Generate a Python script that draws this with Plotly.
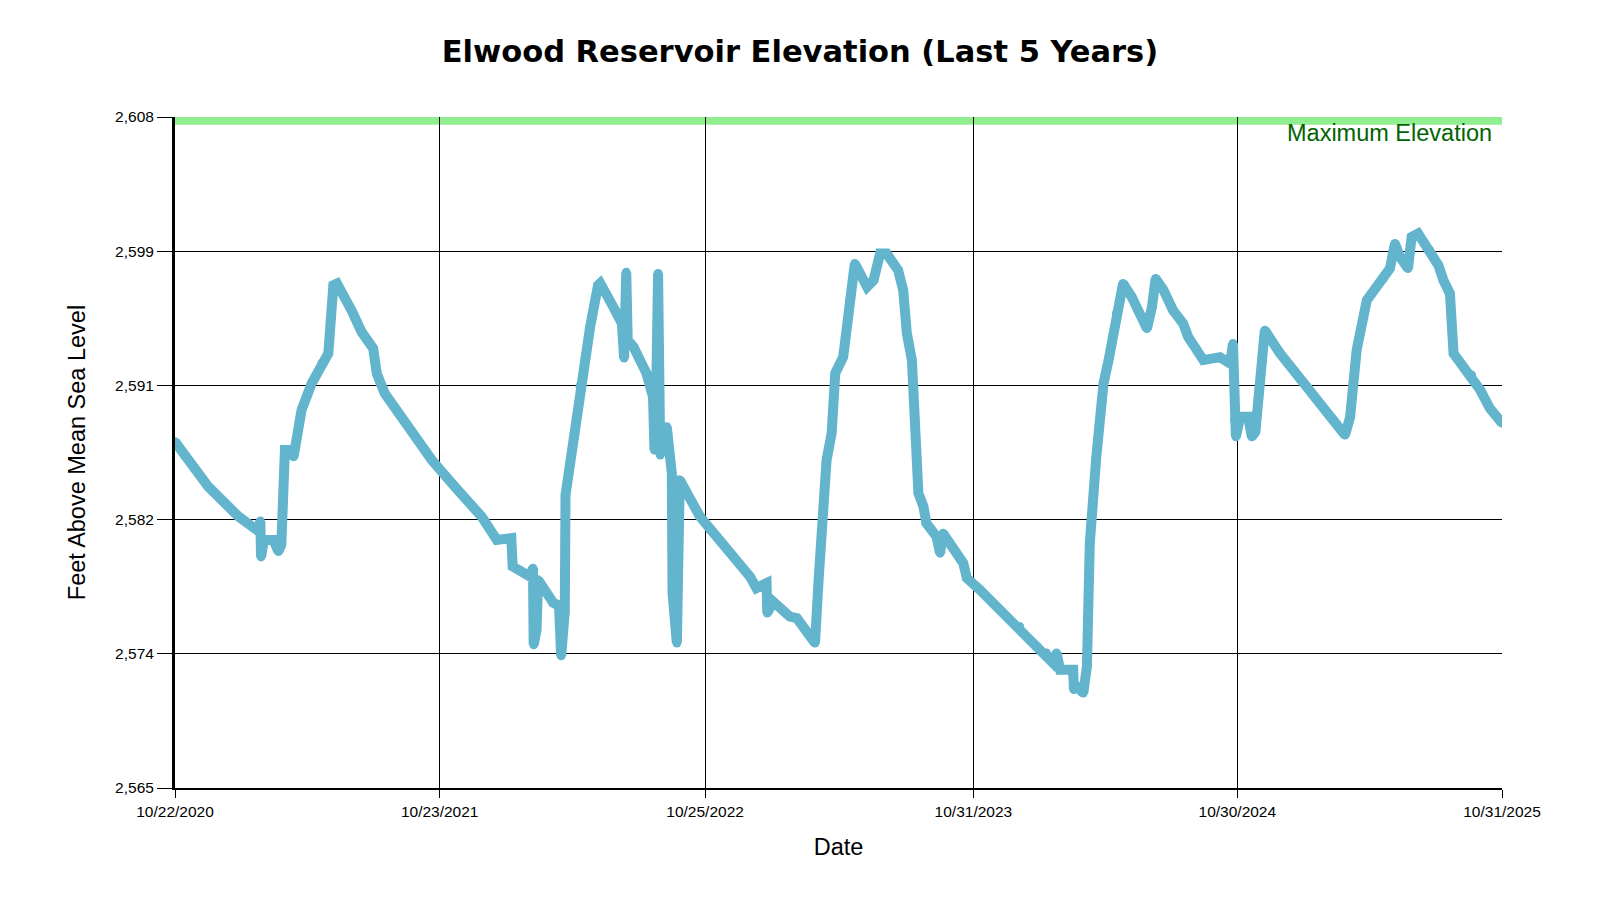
import plotly.graph_objects as go

dates = [
    "2020-10-22", "2020-12-07", "2021-01-18", "2021-02-14", "2021-02-17", "2021-02-18",
    "2021-02-22", "2021-03-07", "2021-03-14", "2021-03-18", "2021-03-23", "2021-03-28",
    "2021-04-04", "2021-04-15", "2021-04-29", "2021-05-13", "2021-05-22", "2021-05-29",
    "2021-06-03", "2021-06-23", "2021-07-07", "2021-07-23", "2021-07-28", "2021-08-08",
    "2021-08-27", "2021-09-19", "2021-10-12", "2021-11-13", "2021-12-20", "2022-01-10",
    "2022-01-30", "2022-02-01", "2022-02-25", "2022-03-01", "2022-03-02", "2022-03-06",
    "2022-03-08", "2022-03-29", "2022-04-06", "2022-04-09", "2022-04-14", "2022-04-15",
    "2022-05-05", "2022-05-19", "2022-05-30", "2022-06-02", "2022-06-20", "2022-07-02",
    "2022-07-05", "2022-07-08", "2022-07-10", "2022-07-18", "2022-07-27", "2022-08-05",
    "2022-08-14", "2022-08-16", "2022-08-18", "2022-08-21", "2022-08-24", "2022-08-26",
    "2022-09-02", "2022-09-09", "2022-09-10", "2022-09-16", "2022-09-17", "2022-09-18",
    "2022-09-20", "2022-10-18", "2022-11-01", "2022-11-29", "2022-12-26", "2023-01-04",
    "2023-01-18", "2023-01-19", "2023-01-27", "2023-02-19", "2023-03-01", "2023-03-26",
    "2023-03-31", "2023-04-11", "2023-04-18", "2023-04-23", "2023-05-04", "2023-05-13",
    "2023-05-20", "2023-06-06", "2023-06-15", "2023-06-24", "2023-07-03", "2023-07-19",
    "2023-07-26", "2023-07-31", "2023-08-07", "2023-08-16", "2023-08-23", "2023-08-27",
    "2023-09-10", "2023-09-15", "2023-09-19", "2023-10-17", "2023-10-22", "2023-11-09",
    "2023-12-16", "2024-01-03", "2024-01-27", "2024-02-09", "2024-02-18", "2024-02-23",
    "2024-02-28", "2024-03-17", "2024-03-18", "2024-03-22", "2024-03-31", "2024-04-05",
    "2024-04-09", "2024-04-18", "2024-04-28", "2024-05-05", "2024-05-16", "2024-05-25",
    "2024-06-06", "2024-06-17", "2024-06-27", "2024-07-04", "2024-07-09", "2024-07-20",
    "2024-08-02", "2024-08-16", "2024-08-23", "2024-09-04", "2024-09-13", "2024-10-06",
    "2024-10-20", "2024-10-24", "2024-10-26", "2024-10-28", "2024-11-03", "2024-11-14",
    "2024-11-19", "2024-11-24", "2024-12-07", "2024-12-28", "2025-02-03", "2025-03-12",
    "2025-03-28", "2025-04-04", "2025-04-13", "2025-04-27", "2025-05-20", "2025-05-29",
    "2025-06-05", "2025-06-12", "2025-06-23", "2025-06-28", "2025-07-07", "2025-07-23",
    "2025-08-04", "2025-08-11", "2025-08-20", "2025-08-25", "2025-09-08", "2025-09-19",
    "2025-10-01", "2025-10-14", "2025-10-31",
]

elevation = [
    2587.19, 2584.31, 2582.39, 2581.47, 2582.11, 2579.81,
    2580.90, 2580.90, 2580.15, 2580.58, 2586.66, 2586.66,
    2586.23, 2589.22, 2590.93, 2592.21, 2592.85, 2597.22,
    2597.33, 2595.62, 2594.23, 2593.17, 2591.57, 2590.29,
    2589.01, 2587.51, 2586.02, 2584.31, 2582.39, 2580.90,
    2581.01, 2579.19, 2578.55, 2579.09, 2574.18, 2575.14,
    2578.34, 2576.87, 2576.67, 2573.47, 2576.29, 2583.78,
    2590.75, 2594.53, 2597.22, 2597.35, 2595.83, 2594.77,
    2592.55, 2598.05, 2593.70, 2593.27, 2592.42, 2591.57,
    2590.07, 2586.66, 2589.22, 2597.97, 2586.34, 2586.66,
    2588.15, 2585.17, 2577.49, 2574.29, 2577.70, 2584.74,
    2584.74, 2582.39, 2581.54, 2580.05, 2578.55, 2577.81,
    2578.13, 2576.21, 2576.95, 2575.99, 2575.88, 2574.29,
    2578.34, 2586.02, 2587.73, 2591.57, 2592.63, 2596.26,
    2598.61, 2597.11, 2597.54, 2599.25, 2599.25, 2598.18,
    2596.90, 2594.13, 2592.42, 2583.89, 2583.03, 2581.97,
    2581.11, 2580.05, 2581.33, 2579.41, 2578.45, 2577.70,
    2575.99, 2575.35, 2574.07, 2573.65, 2573.01, 2573.65,
    2572.58, 2572.58, 2571.30, 2571.51, 2571.09, 2572.79,
    2580.69, 2586.23, 2590.93, 2592.42, 2595.41, 2597.33,
    2596.47, 2595.41, 2594.44, 2595.83, 2597.65, 2596.90,
    2595.62, 2594.77, 2593.91, 2593.06, 2592.42, 2592.61,
    2592.21, 2593.49, 2588.58, 2587.51, 2588.79, 2588.79,
    2587.51, 2587.83, 2594.34, 2592.85, 2590.71, 2588.58,
    2587.62, 2588.79, 2593.06, 2596.26, 2597.65, 2598.29,
    2599.89, 2599.03, 2598.29, 2600.31, 2600.53, 2599.46,
    2598.50, 2597.54, 2596.69, 2592.85, 2591.99, 2591.46,
    2590.50, 2589.35, 2588.38,
]

x_tick_dates = ["2020-10-22", "2021-10-23", "2022-10-25", "2023-10-31", "2024-10-30", "2025-10-31"]
x_tick_labels = ["10/22/2020", "10/23/2021", "10/25/2022", "10/31/2023", "10/30/2024", "10/31/2025"]
y_tick_values = [2565, 2573.6, 2582.2, 2590.8, 2599.4, 2608]
y_tick_labels = ["2,565", "2,574", "2,582", "2,591", "2,599", "2,608"]

max_elevation = 2608
max_band_bottom = 2607.5
max_label = "Maximum Elevation"

FONT = "Liberation Sans, Arial, sans-serif"
LINE_COLOR = "#63B4CD"

fig = go.Figure()

fig.add_shape(
    type="rect", xref="paper", x0=0, x1=1, yref="y",
    y0=max_band_bottom, y1=max_elevation,
    fillcolor="#90EE90", line=dict(width=0), layer="below",
)

fig.add_trace(go.Scatter(
    x=dates, y=elevation, mode="lines+markers",
    line=dict(color=LINE_COLOR, width=10),
    marker=dict(color=LINE_COLOR, size=9, line=dict(width=0)),
    hoverinfo="x+y", showlegend=False,
))

fig.add_annotation(
    xref="paper", x=1, xanchor="right", xshift=-8,
    yref="y", y=2607.0, yanchor="middle",
    text=max_label, showarrow=False,
    font=dict(family=FONT, size=23.5, color="#006400"),
)

axis_font = dict(family=FONT, size=15.5, color="black")

fig.update_layout(
    width=1584, height=884,
    paper_bgcolor="white", plot_bgcolor="white",
    margin=dict(l=167, r=90, t=108.5, b=103.5),
    font=dict(family=FONT, color="black"),
    title=dict(
        text="<b>Elwood Reservoir Elevation (Last 5 Years)</b>",
        x=0.5, xref="container", xanchor="center",
        y=1 - 43 / 884, yref="container", yanchor="middle",
        font=dict(family="DejaVu Sans, sans-serif", size=30.5, color="black"),
    ),
    xaxis=dict(
        type="date",
        range=["2020-10-22", "2025-10-31"],
        tickmode="array", tickvals=x_tick_dates, ticktext=x_tick_labels,
        tickfont=axis_font,
        ticks="outside", ticklen=8, tickcolor="black", tickwidth=1,
        showgrid=True, gridcolor="black", gridwidth=1,
        showline=True, linecolor="black", linewidth=2,
        zeroline=False,
        title=dict(text="Date", font=dict(family=FONT, size=23.5, color="black"), standoff=20),
    ),
    yaxis=dict(
        range=[2565, 2608],
        tickmode="array", tickvals=y_tick_values, ticktext=y_tick_labels,
        tickfont=axis_font,
        ticks="outside", ticklen=15, tickcolor="black", tickwidth=1,
        showgrid=True, gridcolor="black", gridwidth=1,
        showline=True, linecolor="black", linewidth=3,
        zeroline=False,
        title=dict(text="Feet Above Mean Sea Level", font=dict(family=FONT, size=23.5, color="black"), standoff=23),
    ),
)

fig.write_html("out.html")
